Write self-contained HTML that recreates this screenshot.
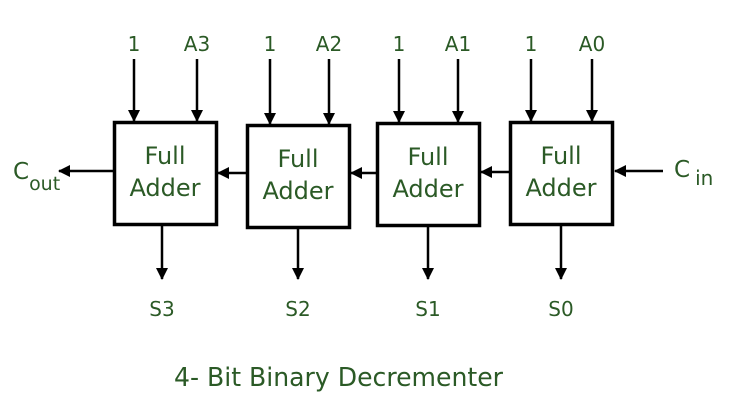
<!DOCTYPE html>
<html><head><meta charset="utf-8"><style>
html,body{margin:0;padding:0;background:#fff;}
svg{display:block;}
text{font-family:"DejaVu Sans","Liberation Sans",sans-serif;fill:#2b5a26;}
</style></head><body>
<svg id="d" width="729" height="401" viewBox="0 0 729 401" xmlns="http://www.w3.org/2000/svg">
<defs><marker id="ah" markerWidth="12" markerHeight="12" refX="11" refY="6" orient="auto" markerUnits="userSpaceOnUse"><path d="M0,0 L12,6 L0,12 z" fill="#000"/></marker></defs>
<g id="g"></g>
<text x="13" y="179" font-size="23">C<tspan font-size="19" dy="11">out</tspan></text>
<text x="674" y="177" font-size="23">C<tspan font-size="20" dx="5" dy="8">in</tspan></text>
<text x="174" y="386" font-size="26" textLength="329" lengthAdjust="spacingAndGlyphs">4- Bit Binary Decrementer</text>
</svg>
<script>
const boxes=[{x:113,y:121,a:'A3',s:'S3',i1:134,i2:197,o:162,cy:171},{x:246,y:124,a:'A2',s:'S2',i1:270,i2:329,o:298,cy:173},{x:376,y:122,a:'A1',s:'S1',i1:399,i2:458,o:428,cy:173},{x:509,y:121,a:'A0',s:'S0',i1:531,i2:592,o:561,cy:172}];
const g=document.getElementById('g');const NS='http://www.w3.org/2000/svg';
function mk(t,at,name){const e=document.createElementNS(NS,t);for(const k in at)e.setAttribute(k,at[k]);


g.appendChild(e);return e;}
function line(x1,y1,x2,y2,name){mk('line',{x1,y1,x2,y2,stroke:'#000','stroke-width':2.5,'marker-end':'url(#ah)'},name);}
function txt(x,y,s,size,name){const t=mk('text',{x,y,'font-size':size,'text-anchor':'middle'},name);t.textContent=s;}
boxes.forEach((b,i)=>{
 mk('rect',{x:b.x+1.5,y:b.y+1.5,width:102,height:102,fill:'none',stroke:'#000','stroke-width':3.5},'full-adder-box');
 txt(b.x+52,b.y+43,'Full',24,'full-label');txt(b.x+52,b.y+75,'Adder',24,'adder-label');
 line(b.i1,59,b.i1,b.y,'input-one-arrow');line(b.i2,59,b.i2,b.y,'input-a-arrow');
 txt(b.i1,51,'1',20,'input-one-label');txt(b.i2,51,b.a,20,'input-a-label');
 line(b.o,b.y+104,b.o,279,'sum-arrow');txt(b.o,316,b.s,20,'sum-label');
 if(i>0){const p=boxes[i-1];line(b.x,b.cy,p.x+105,b.cy,'carry-arrow');}
});
line(113,171,59,171,'cout-arrow');
line(663,171,615,171,'cin-arrow');
</script>
</body></html>
